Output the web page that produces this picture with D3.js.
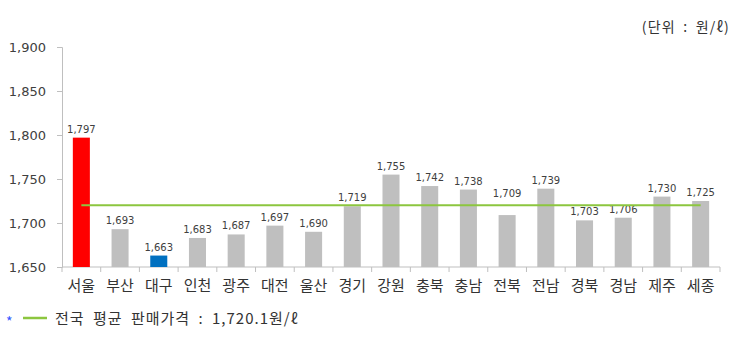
<!DOCTYPE html>
<html>
<head>
<meta charset="utf-8">
<script src="https://cdn.jsdelivr.net/npm/d3@7"></script>
<style>
  body { margin: 0; background: #fff; }
  svg { display: block; font-family: "Noto Sans CJK KR", "Noto Sans", sans-serif; }
</style>
</head>
<body>
<div class="chart"></div>
<script>
// regions and average price (won per litre)
const regions = ["서울", "부산", "대구", "인천", "광주", "대전", "울산", "경기", "강원", "충북", "충남", "전북", "전남", "경북", "경남", "제주", "세종"];
const prices = [1797, 1693, 1663, 1683, 1687, 1697, 1690, 1719, 1755, 1742, 1738, 1709, 1739, 1703, 1706, 1730, 1725];
const yTicks = [1650, 1700, 1750, 1800, 1850, 1900];
const nationalAvg = 1720.1;
const unitLabel = "(단위 : 원/ℓ)";
const legendLabel = "전국 평균 판매가격 : 1,720.1원/ℓ";

const width = 750, height = 353;
const margin = {top: 47, bottom: 86, left: 62, right: 30};
const numFont = "DejaVu Sans, Verdana, sans-serif";

const svg = d3.select(".chart").append("svg").attr("width", width).attr("height", height);

const data = regions.map((r, i) => ({region: r, price: prices[i]}));

const x = d3.scaleBand()
  .domain(regions)
  .range([margin.left, width - margin.right])
  .paddingInner(0.56)
  .paddingOuter(0.28);

const y = d3.scaleLinear()
  .domain([1650, 1900])
  .range([height - margin.bottom, margin.top]);

// bar colours: highest red, lowest blue, rest gray
const maxP = d3.max(prices), minP = d3.min(prices);
const barColor = d => d.price === maxP ? "#ff0000" : d.price === minP ? "#0070c0" : "#bfbfbf";

// y axis
const yAxis = d3.axisLeft(y).tickValues(yTicks).tickSize(5).tickPadding(11).tickFormat(d3.format(","));
const gy = svg.append("g").attr("transform", `translate(${margin.left},0)`).call(yAxis);
gy.select(".domain").attr("stroke", "#bfbfbf");
gy.selectAll(".tick line").attr("stroke", "#bfbfbf");
gy.selectAll(".tick text").attr("fill", "#404040").attr("font-size", 13).attr("font-family", numFont);

// x axis with tick marks at band boundaries
const step = x.step();
const start = x(regions[0]) - step * x.paddingOuter();
const xg = svg.append("g");
xg.append("line")
  .attr("x1", margin.left).attr("x2", width - margin.right)
  .attr("y1", y(1650)).attr("y2", y(1650))
  .attr("stroke", "#bfbfbf");
xg.selectAll("line.tk")
  .data(d3.range(regions.length + 1))
  .join("line")
  .attr("class", "tk")
  .attr("x1", i => start + i * step)
  .attr("x2", i => start + i * step)
  .attr("y1", y(1650)).attr("y2", y(1650) + 5)
  .attr("stroke", "#bfbfbf");

// bars
svg.append("g")
  .selectAll("rect")
  .data(data)
  .join("rect")
  .attr("x", d => x(d.region))
  .attr("y", d => y(d.price))
  .attr("width", x.bandwidth())
  .attr("height", d => y(1650) - y(d.price))
  .attr("fill", barColor);

// value labels; lifted above the average line when they would sit right on it
const avgY = y(nationalAvg);
const labelY = d => {
  const base = y(d.price) - 5;
  return Math.abs((base - 4) - avgY) < 2 ? avgY - 8 : base;
};
svg.append("g")
  .selectAll("text")
  .data(data)
  .join("text")
  .attr("x", d => x(d.region) + x.bandwidth() / 2)
  .attr("y", labelY)
  .attr("text-anchor", "middle")
  .attr("font-size", 10)
  .attr("fill", "#404040")
  .attr("font-family", numFont)
  .text(d => d3.format(",")(d.price));

// national average line
svg.append("line")
  .attr("x1", x(regions[0]) + x.bandwidth() / 2)
  .attr("x2", x(regions[regions.length - 1]) + x.bandwidth() / 2)
  .attr("y1", avgY).attr("y2", avgY)
  .attr("stroke", "#8cc63f")
  .attr("stroke-width", 2);

// category labels
svg.append("g")
  .selectAll("text")
  .data(regions)
  .join("text")
  .attr("x", d => x(d) + x.bandwidth() / 2)
  .attr("y", y(1650) + 24)
  .attr("text-anchor", "middle")
  .attr("font-size", 15)
  .attr("fill", "#333")
  .text(d => d);

// unit
svg.append("text")
  .attr("x", 730).attr("y", 32)
  .attr("text-anchor", "end")
  .attr("font-size", 14)
  .attr("letter-spacing", 1.2)
  .attr("word-spacing", 3)
  .attr("fill", "#333")
  .text(unitLabel);

// legend
const lg = svg.append("g").attr("transform", "translate(0, 324)");
lg.append("text").attr("x", 6).attr("y", 3).attr("font-size", 14).attr("fill", "#3355ff").text("*");
lg.append("line").attr("x1", 23).attr("x2", 47).attr("y1", -6).attr("y2", -6)
  .attr("stroke", "#8cc63f").attr("stroke-width", 2.5);
lg.append("text").attr("x", 55).attr("y", 0)
  .attr("font-size", 15)
  .attr("letter-spacing", 1)
  .attr("word-spacing", 4)
  .attr("fill", "#333")
  .text(legendLabel);
</script>
</body>
</html>
